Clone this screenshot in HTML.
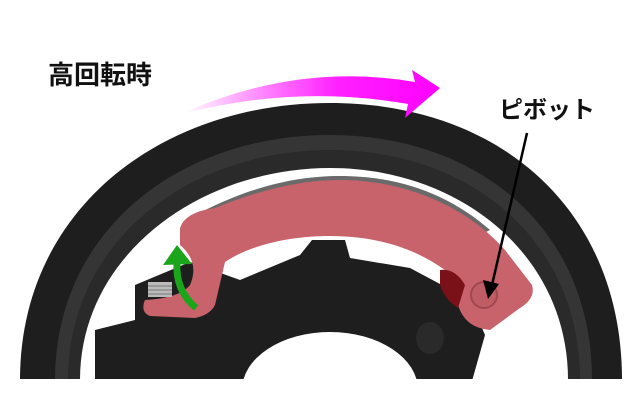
<!DOCTYPE html>
<html><head><meta charset="utf-8"><style>
html,body{margin:0;padding:0;background:#fff;width:640px;height:400px;overflow:hidden}
svg{display:block}
text{font-family:"Liberation Sans","Noto Sans CJK JP",sans-serif;font-weight:bold}
</style></head><body>
<svg width="640" height="400" viewBox="0 0 640 400">
<defs>
<linearGradient id="mg" x1="185" y1="0" x2="440" y2="0" gradientUnits="userSpaceOnUse">
<stop offset="0" stop-color="#ff00ff" stop-opacity="0"/>
<stop offset="0.6" stop-color="#ff20ff"/>
<stop offset="1" stop-color="#ff00ff"/>
</linearGradient>
<clipPath id="cl"><rect x="0" y="0" width="640" height="379"/></clipPath>
</defs>
<g clip-path="url(#cl)">
<path d="M20 380 C 20 210, 160 103, 330 103 C 500 103, 622 210, 622 380 Z" fill="#1e1e1e"/>
<path d="M55 380 C 55 230, 180 135, 330 135 C 480 135, 592 230, 592 380 Z" fill="#353535"/>
<path d="M68 380 C 68 240, 190 150, 330 150 C 470 150, 580 240, 580 380 Z" fill="#2a2a2a"/>
<path d="M80 380 C 80 255, 200 168, 330 168 C 460 168, 568 255, 568 380 Z" fill="#fff"/>
<!-- hub -->
<path d="M95 330 L135 320 L135 285 L190 262 L240 280 L300 255 L312 240 L345 240 L350 258 L410 268 L470 300 L485 335 L472 381 L95 381 Z" fill="#1e1e1e"/>
<ellipse cx="330" cy="390" rx="88" ry="58" fill="#fff"/>
<ellipse cx="430" cy="338" rx="14" ry="16" fill="#2a2a2a"/>
<!-- pads -->
<path d="M190 218 C 250 185, 300 176, 340 176 C 400 176, 450 195, 490 230 L 470 240 C 430 205, 380 188, 330 188 C 280 188, 240 198, 200 225 Z" fill="#6a6a6a"/>
<!-- shoe -->
<path d="M180 228 Q185 212 215 208 C 260 190, 300 180, 340 180 C 410 180, 470 210, 505 250 L 532 285 Q536 298 520 308 L 490 330 Q465 328 458 305 Q445 285 445 270 C 410 245, 370 236, 330 236 C 290 236, 250 245, 225 262 L215 305 Q210 315 195 318 L150 316 Q140 312 145 300 Q180 298 190 285 Q200 262 180 245 Z" fill="#c8626b"/>
<path d="M440 270 Q455 268 465 285 L458 308 Q445 300 440 285 Z" fill="#7a1018"/>
<circle cx="484" cy="295" r="13" fill="#c05c64" stroke="#a04850" stroke-width="2"/>
<rect x="148" y="282" width="24" height="15" fill="#bbb"/>
<path d="M148 286h24M148 290h24M148 294h24" stroke="#777" stroke-width="1"/>
<!-- green arrow -->
<path d="M196 308 Q175 290 177 262" stroke="#1aa51a" stroke-width="7" fill="none"/>
<path d="M163 265 L177 245 L192 264 Z" fill="#1aa51a"/>
</g>
<!-- magenta arrow -->
<path d="M185 112 Q300 62 415 82 L412 70 L440 88 L405 118 L408 104 Q300 85 190 112 Z" fill="url(#mg)"/>
<text x="48" y="84" font-size="26" fill="#111">高回転時</text>
<text x="499" y="118" font-size="24" fill="#111">ピボット</text>
<line x1="527" y1="133" x2="492" y2="285" stroke="#000" stroke-width="2.5"/>
<path d="M483 280 L488 299 L499 284 Z" fill="#000"/>
</svg>
</body></html>
